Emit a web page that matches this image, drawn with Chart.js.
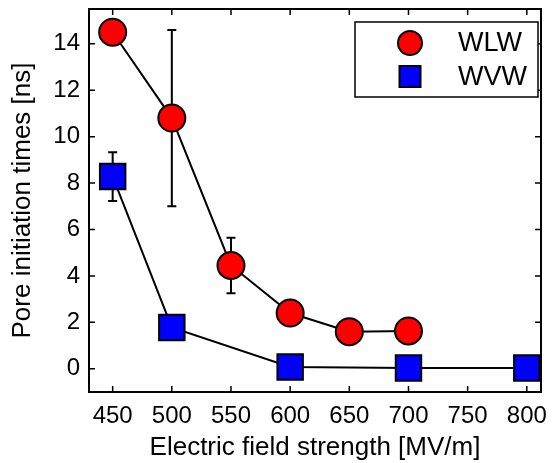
<!DOCTYPE html>
<html>
<head>
<meta charset="utf-8">
<script src="https://cdn.jsdelivr.net/npm/chart.js@4"></script>
<style>
  body { margin: 0; background: #fff; }
  #box { width: 552px; height: 463px; }
</style>
</head>
<body>
<div id="box"><canvas id="grafico"></canvas></div>
<script>
// dados
const campoWlw = [450, 500, 550, 600, 650, 700]
const wlw = [14.5, 10.8, 4.45, 2.4, 1.6, 1.63]
const wlwErro = [0, 3.8, 1.2, 0, 0, 0]

const campoWvw = [450, 500, 600, 700, 800]
const wvw = [8.28, 1.78, 0.08, 0.03, 0.03]
const wvwErro = [1.05, 0, 0, 0, 0]

const ticksX = [450, 500, 550, 600, 650, 700, 750, 800]
const ticksY = [0, 2, 4, 6, 8, 10, 12, 14]

const fonte = 'Liberation Sans'


// moldura com ticks para dentro nos 4 lados
const moldura = {
  id: 'moldura',
  beforeDatasetsDraw(chart) {
    const { ctx, chartArea: a, scales } = chart
    ctx.save()
    ctx.strokeStyle = '#000'
    ctx.lineWidth = 1.5
    ctx.beginPath()
    scales.x.ticks.forEach(t => {
      const px = scales.x.getPixelForValue(t.value)
      ctx.moveTo(px, a.bottom); ctx.lineTo(px, a.bottom - 6)
      ctx.moveTo(px, a.top); ctx.lineTo(px, a.top + 6)
    })
    scales.y.ticks.forEach(t => {
      const py = scales.y.getPixelForValue(t.value)
      ctx.moveTo(a.left, py); ctx.lineTo(a.left + 6, py)
      ctx.moveTo(a.right, py); ctx.lineTo(a.right - 6, py)
    })
    ctx.stroke()
    ctx.lineWidth = 2
    ctx.strokeRect(a.left, a.top, a.right - a.left, a.bottom - a.top)
    ctx.restore()
  }
}


// barras de erro
const barrasErro = {
  id: 'barrasErro',
  beforeDatasetsDraw(chart) {
    const { ctx, scales: { x, y } } = chart
    const erros = [wlwErro, wvwErro]
    ctx.save()
    ctx.strokeStyle = '#000'
    ctx.lineWidth = 2
    chart.data.datasets.forEach((ds, i) => {
      ds.data.forEach((p, j) => {
        const e = erros[i][j]
        if (!e) return
        const px = x.getPixelForValue(p.x)
        const y1 = y.getPixelForValue(p.y + e)
        const y2 = y.getPixelForValue(p.y - e)
        ctx.beginPath()
        ctx.moveTo(px, y1); ctx.lineTo(px, y2)
        ctx.moveTo(px - 4.5, y1); ctx.lineTo(px + 4.5, y1)
        ctx.moveTo(px - 4.5, y2); ctx.lineTo(px + 4.5, y2)
        ctx.stroke()
      })
    })
    ctx.restore()
  }
}


// legenda dentro da area do grafico
const legenda = {
  id: 'legenda',
  afterDraw(chart) {
    const { ctx, chartArea: a } = chart
    const w = 183, h = 75
    const lx = a.right - 3 - w, ly = a.top + 13
    ctx.save()
    ctx.fillStyle = '#fff'
    ctx.fillRect(lx, ly, w, h)
    ctx.strokeStyle = '#000'
    ctx.lineWidth = 1.5
    ctx.strokeRect(lx, ly, w, h)
    ctx.font = '27px "' + fonte + '"'
    ctx.textBaseline = 'middle'
    chart.data.datasets.forEach((ds, i) => {
      const cy = ly + 21 + i * 33.5
      const cx = lx + 55
      ctx.beginPath()
      if (ds.pointStyle === 'circle') ctx.arc(cx, cy, 12, 0, 2 * Math.PI)
      else ctx.rect(cx - 10.5, cy - 10.5, 21, 21)
      ctx.fillStyle = ds.pointBackgroundColor
      ctx.fill()
      ctx.lineWidth = 2
      ctx.strokeStyle = '#000'
      ctx.stroke()
      ctx.fillStyle = '#000'
      ctx.fillText(ds.label, lx + 103, cy + 1)
    })
    ctx.restore()
  }
}


const ctx = document.getElementById('grafico')

new Chart(ctx, {
  type: 'scatter',
  data: {
    datasets: [{
      label: 'WLW',
      data: campoWlw.map((c, i) => ({ x: c, y: wlw[i] })),
      showLine: true,
      borderColor: '#000',
      borderWidth: 2,
      pointStyle: 'circle',
      pointRadius: 13.5,
      pointBackgroundColor: '#ff0000',
      pointBorderColor: '#000',
      pointBorderWidth: 2
    }, {
      label: 'WVW',
      data: campoWvw.map((c, i) => ({ x: c, y: wvw[i] })),
      showLine: true,
      borderColor: '#000',
      borderWidth: 2,
      pointStyle: 'rect',
      pointRadius: 18,
      pointBackgroundColor: '#0000ff',
      pointBorderColor: '#000',
      pointBorderWidth: 2
    }]
  },
  options: {
    responsive: true,
    maintainAspectRatio: false,
    animation: false,
    layout: { autoPadding: false, padding: { left: 0, top: 9, right: 11, bottom: 0 } },
    plugins: {
      legend: { display: false },
      tooltip: { enabled: false }
    },
    scales: {
      x: {
        type: 'linear',
        min: 430,
        max: 812,
        afterBuildTicks: s => { s.ticks = ticksX.map(v => ({ value: v })) },
        afterFit: s => { s.height = 71; s.paddingLeft = 0; s.paddingRight = 0 },
        grid: { display: false, drawTicks: false },
        border: { display: false },
        ticks: {
          color: '#000',
          font: { size: 24, family: fonte },
          padding: 10,
          maxRotation: 0,
          autoSkip: false
        },
        title: {
          display: true,
          text: 'Electric field strength [MV/m]',
          color: '#000',
          font: { size: 26, family: fonte },
          padding: 0
        }
      },
      y: {
        min: -1,
        max: 15.5,
        afterBuildTicks: s => { s.ticks = ticksY.map(v => ({ value: v })) },
        afterFit: s => { s.width = 89; s.paddingTop = 0; s.paddingBottom = 0 },
        grid: { display: false, drawTicks: false },
        border: { display: false },
        ticks: {
          color: '#000',
          font: { size: 24, family: fonte },
          padding: 9,
          autoSkip: false
        },
        title: {
          display: true,
          text: 'Pore initiation times [ns]',
          color: '#000',
          font: { size: 26, family: fonte },
          padding: { top: 7, bottom: 0 }
        }
      }
    }
  },
  plugins: [moldura, barrasErro, legenda]
})
</script>
</body>
</html>
